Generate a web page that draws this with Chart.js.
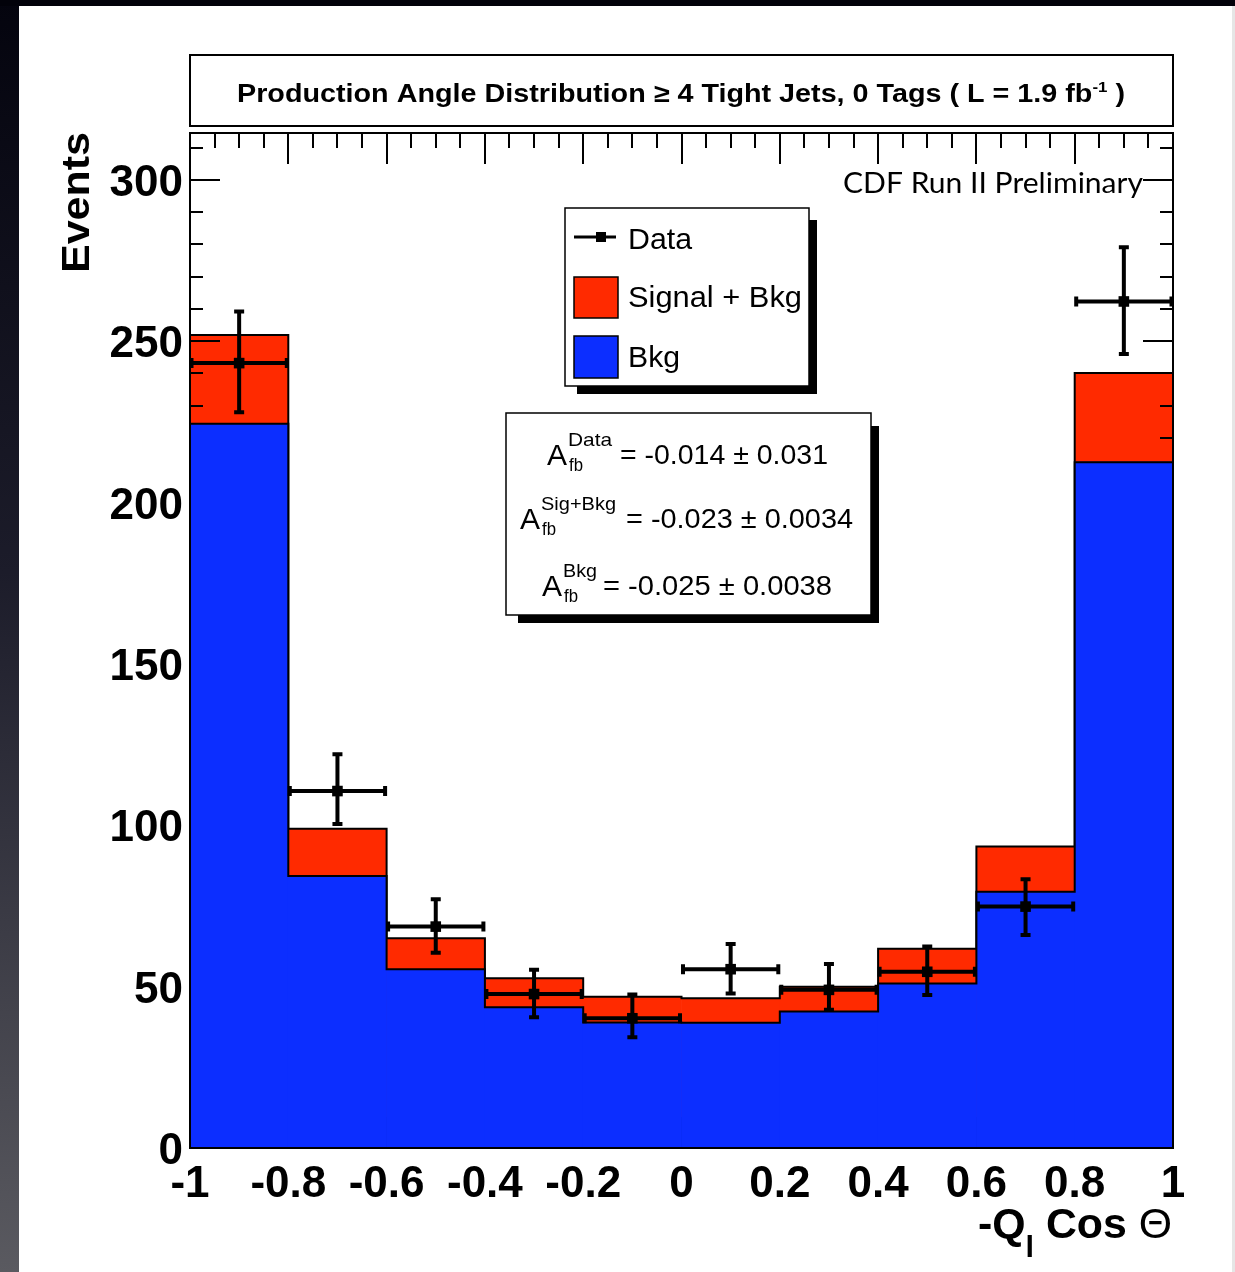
<!DOCTYPE html>
<html><head><meta charset="utf-8">
<script src="https://cdn.jsdelivr.net/npm/chart.js@4"></script>
<style>html,body{margin:0;padding:0;background:#fff;overflow:hidden}canvas{display:block}</style>
</head><body>
<canvas id="c" width="1235" height="1272"></canvas>
<script>
// ---- data ----
const binEdges = [-1, -0.8, -0.6, -0.4, -0.2, 0, 0.2, 0.4, 0.6, 0.8, 1];
const binCenters = [-0.9, -0.7, -0.5, -0.3, -0.1, 0.1, 0.3, 0.5, 0.7, 0.9];
const sigBkg = [251.9, 98.9, 65.0, 52.6, 46.9, 46.4, 50.0, 61.7, 93.4, 240.1];
const bkg = [224.4, 84.3, 55.4, 43.6, 38.9, 38.8, 42.3, 51.0, 79.4, 212.5];
const dataVals = [243.2, 110.6, 68.6, 47.7, 40.2, 55.4, 49.0, 54.6, 74.8, 262.3];
const dataErrUp = [16.0, 11.4, 8.5, 7.5, 7.4, 7.8, 8.0, 7.8, 8.5, 16.8];
const dataErrDown = [15.2, 10.2, 8.1, 7.2, 5.9, 7.5, 6.2, 7.2, 8.8, 16.3];
const xTickValues = [-1, -0.8, -0.6, -0.4, -0.2, 0, 0.2, 0.4, 0.6, 0.8, 1];
const xTickLabels = ['-1', '-0.8', '-0.6', '-0.4', '-0.2', '0', '0.2', '0.4', '0.6', '0.8', '1'];
const yTickValues = [0, 50, 100, 150, 200, 250, 300];
const yTickLabels = ['0', '50', '100', '150', '200', '250', '300'];
const yMin = 0, yMax = 314.5;
const legendLabels = ['Data', 'Signal + Bkg', 'Bkg'];
const afbLabels = ['Data', 'Sig+Bkg', 'Bkg'];
const afbTexts = ['= -0.014 \u00b1 0.031', '= -0.023 \u00b1 0.0034', '= -0.025 \u00b1 0.0038'];

const RED = '#ff2a00', BLUE = '#0c2eff';
const SANS = '"Liberation Sans", Arial, Helvetica, sans-serif';

function stepPoints(vals) {
  return binEdges.map((e, i) => ({ x: e, y: vals[Math.min(i, vals.length - 1)] }));
}

// draw segments of text, horizontally scaled to fit width w
function drawRich(ctx, segs, x, baseline, w) {
  ctx.save();
  let total = 0;
  segs.forEach(s => { ctx.font = s.font; s.w = ctx.measureText(s.t).width; total += s.w; });
  const k = w ? w / total : 1;
  ctx.translate(x, baseline);
  ctx.scale(k, 1);
  ctx.textAlign = 'left'; ctx.textBaseline = 'alphabetic'; ctx.fillStyle = '#000';
  let cx = 0;
  segs.forEach(s => { ctx.font = s.font; ctx.fillText(s.t, cx, s.dy || 0); cx += s.w; });
  ctx.restore();
}

const decor = {
  id: 'decor',
  beforeDraw(chart) {
    const ctx = chart.ctx;
    ctx.save();
    ctx.fillStyle = '#fff';
    ctx.fillRect(0, 0, chart.width, chart.height);
    const g = ctx.createLinearGradient(0, 0, 0, chart.height);
    g.addColorStop(0, '#04040e'); g.addColorStop(0.45, '#1c1c2a'); g.addColorStop(1, '#5a5a60');
    ctx.fillStyle = g;
    ctx.fillRect(0, 0, 19, chart.height);
    ctx.fillStyle = '#02020a';
    ctx.fillRect(0, 0, chart.width, 6);
    ctx.fillStyle = '#e6e6e6';
    ctx.fillRect(1232, 6, 3, chart.height);
    ctx.restore();
  },
  beforeDatasetDraw(chart, args) {
    if (args.index !== 2) return;
    const ctx = chart.ctx, a = chart.chartArea;
    const xs = chart.scales.x, ys = chart.scales.y;
    ctx.save();
    ctx.strokeStyle = '#000'; ctx.lineWidth = 2;
    ctx.beginPath();
    for (let v = 0; v <= yMax + 1e-6; v += 10) {
      const y = Math.round(ys.getPixelForValue(v));
      const len = (Math.round(v) % 50 === 0) ? 30 : 13;
      ctx.moveTo(a.left, y); ctx.lineTo(a.left + len, y);
      ctx.moveTo(a.right, y); ctx.lineTo(a.right - len, y);
    }
    for (let i = 0; i <= 40; i++) {
      const v = -1 + i * 0.05;
      const x = Math.round(xs.getPixelForValue(v));
      const len = (i % 4 === 0) ? 31 : 15;
      ctx.moveTo(x, a.top); ctx.lineTo(x, a.top + len);
      ctx.moveTo(x, a.bottom); ctx.lineTo(x, a.bottom - len);
    }
    ctx.stroke();
    ctx.restore();
  },
  afterDatasetsDraw(chart) {
    const ctx = chart.ctx;
    const xs = chart.scales.x, ys = chart.scales.y;
    ctx.save();
    ctx.strokeStyle = '#000'; ctx.lineWidth = 4; ctx.lineCap = 'butt';
    ctx.beginPath();
    dataVals.forEach((v, i) => {
      const x = xs.getPixelForValue(binCenters[i]);
      const y = ys.getPixelForValue(v);
      const yt = ys.getPixelForValue(v + dataErrUp[i]);
      const yb = ys.getPixelForValue(v - dataErrDown[i]);
      const xl = xs.getPixelForValue(binEdges[i]);
      const xr = xs.getPixelForValue(binEdges[i + 1]);
      ctx.moveTo(x, yt); ctx.lineTo(x, yb);
      ctx.moveTo(xl, y); ctx.lineTo(xr, y);
      ctx.moveTo(x - 5, yt); ctx.lineTo(x + 5, yt);
      ctx.moveTo(x - 5, yb); ctx.lineTo(x + 5, yb);
      ctx.moveTo(xl + 1.5, y - 5); ctx.lineTo(xl + 1.5, y + 5);
      ctx.moveTo(xr - 1.5, y - 5); ctx.lineTo(xr - 1.5, y + 5);
    });
    ctx.stroke();
    ctx.restore();
  },
  afterDraw(chart) {
    const ctx = chart.ctx, a = chart.chartArea;
    ctx.save();
    // frame
    ctx.strokeStyle = '#000'; ctx.lineWidth = 2;
    ctx.strokeRect(a.left, a.top, a.right - a.left, a.bottom - a.top);
    // title box
    ctx.fillStyle = '#fff';
    ctx.fillRect(a.left, 55, a.right - a.left, 71);
    ctx.strokeRect(a.left, 55, a.right - a.left, 71);
    drawRich(ctx, [
      { t: 'Production Angle Distribution \u2265 4 Tight Jets, 0 Tags ( L = 1.9 fb', font: 'bold 25.5px ' + SANS },
      { t: '-1', font: 'bold 15px ' + SANS, dy: -10 },
      { t: ' )', font: 'bold 25.5px ' + SANS }
    ], 237, 102, 888);

    // CDF label
    drawRich(ctx, [{ t: 'CDF Run II Preliminary', font: '28px Lato, "Open Sans", sans-serif' }], 843, 193, 300);

    // Y title
    ctx.save();
    ctx.translate(89, 273); ctx.rotate(-Math.PI / 2);
    drawRich(ctx, [{ t: 'Events', font: 'bold 39px ' + SANS }], 0, 0, 141);
    ctx.restore();

    // X title
    drawRich(ctx, [
      { t: '-Q', font: 'bold 42px ' + SANS },
      { t: 'l', font: 'bold 30px ' + SANS, dy: 19 },
      { t: ' Cos ', font: 'bold 42px ' + SANS },
      { t: '\u0398', font: '42px ' + SANS }
    ], 978, 1238, 194);

    // legend box
    ctx.fillStyle = '#000';
    ctx.fillRect(577, 220, 817 - 577, 394 - 220);
    ctx.fillStyle = '#fff';
    ctx.fillRect(565, 208, 244, 178);
    ctx.lineWidth = 1.5; ctx.strokeStyle = '#000';
    ctx.strokeRect(565, 208, 244, 178);
    ctx.lineWidth = 3;
    ctx.beginPath(); ctx.moveTo(574, 237); ctx.lineTo(616, 237); ctx.stroke();
    ctx.fillStyle = '#000'; ctx.fillRect(596, 232, 10, 10);
    ctx.lineWidth = 1.5;
    ctx.fillStyle = RED; ctx.fillRect(574, 277, 44, 41); ctx.strokeRect(574, 277, 44, 41);
    ctx.fillStyle = BLUE; ctx.fillRect(574, 336, 44, 42); ctx.strokeRect(574, 336, 44, 42);
    const lf = '29px ' + SANS;
    drawRich(ctx, [{ t: legendLabels[0], font: lf }], 628, 249, 64);
    drawRich(ctx, [{ t: legendLabels[1], font: lf }], 628, 307, 174);
    drawRich(ctx, [{ t: legendLabels[2], font: lf }], 628, 367, 52);

    // asymmetry box
    ctx.fillStyle = '#000';
    ctx.fillRect(518, 426, 879 - 518, 623 - 426);
    ctx.fillStyle = '#fff';
    ctx.fillRect(506, 413, 365, 202);
    ctx.lineWidth = 1.5; ctx.strokeRect(506, 413, 365, 202);
    const rows = [
      { ax: 547, eqx: 620, eqw: 208, supw: 44, base: 464 },
      { ax: 520, eqx: 626, eqw: 227, supw: 75, base: 528 },
      { ax: 542, eqx: 603, eqw: 229, supw: 34, base: 595 }
    ];
    rows.forEach((r, i) => {
      drawRich(ctx, [{ t: 'A', font: '30px ' + SANS }], r.ax, r.base + 1, 20);
      drawRich(ctx, [{ t: afbLabels[i], font: '19px ' + SANS }], r.ax + 21, r.base - 18, r.supw);
      drawRich(ctx, [{ t: 'fb', font: '18px ' + SANS }], r.ax + 22, r.base + 7, 14);
      drawRich(ctx, [{ t: afbTexts[i], font: '28.5px ' + SANS }], r.eqx, r.base, r.eqw);
    });
    ctx.restore();
  }
};

const tickFont = { family: SANS, size: 44, weight: 'bold' };

new Chart(document.getElementById('c'), {
  data: {
    datasets: [
      { type: 'scatter', label: 'Data', order: 1,
        data: binCenters.map((x, i) => ({ x, y: dataVals[i] })),
        pointStyle: 'rect', pointRadius: 7.5, pointBackgroundColor: '#000', pointBorderWidth: 0, showLine: false },
      { type: 'line', label: 'Bkg outline', order: 2,
        data: stepPoints(bkg), stepped: 'before', borderColor: '#000', borderWidth: 2, pointRadius: 0, fill: false },
      { type: 'bar', label: 'Bkg', order: 3,
        data: binCenters.map((x, i) => ({ x, y: bkg[i] })),
        backgroundColor: BLUE, borderWidth: 0, grouped: false, barPercentage: 1, categoryPercentage: 1 },
      { type: 'line', label: 'Signal + Bkg outline', order: 4,
        data: stepPoints(sigBkg), stepped: 'before', borderColor: '#000', borderWidth: 2, pointRadius: 0, fill: false },
      { type: 'bar', label: 'Signal + Bkg', order: 5,
        data: binCenters.map((x, i) => ({ x, y: sigBkg[i] })),
        backgroundColor: RED, borderWidth: 0, grouped: false, barPercentage: 1, categoryPercentage: 1 }
    ]
  },
  options: {
    responsive: false, animation: false, events: [],
    layout: { padding: { left: 0, right: 62, top: 133, bottom: 0 } },
    plugins: { legend: { display: false }, tooltip: { enabled: false }, title: { display: false } },
    scales: {
      x: {
        type: 'linear', min: -1, max: 1, offset: false,
        afterBuildTicks: s => { s.ticks = xTickValues.map(v => ({ value: v })); },
        afterFit: s => { s.height = 124; },
        grid: { display: false, drawTicks: false, offset: false }, border: { display: false },
        ticks: { font: tickFont, color: '#000', padding: 10, maxRotation: 0, autoSkip: false,
          callback: (v, i) => xTickLabels[i] }
      },
      y: {
        type: 'linear', min: yMin, max: yMax,
        afterBuildTicks: s => { s.ticks = yTickValues.map(v => ({ value: v })); },
        afterFit: s => { s.width = 190; },
        grid: { display: false, drawTicks: false }, border: { display: false },
        ticks: { font: tickFont, color: '#000', padding: 7, labelOffset: 4,
          callback: (v, i) => yTickLabels[i] }
      }
    }
  },
  plugins: [decor]
});
</script>
</body></html>
